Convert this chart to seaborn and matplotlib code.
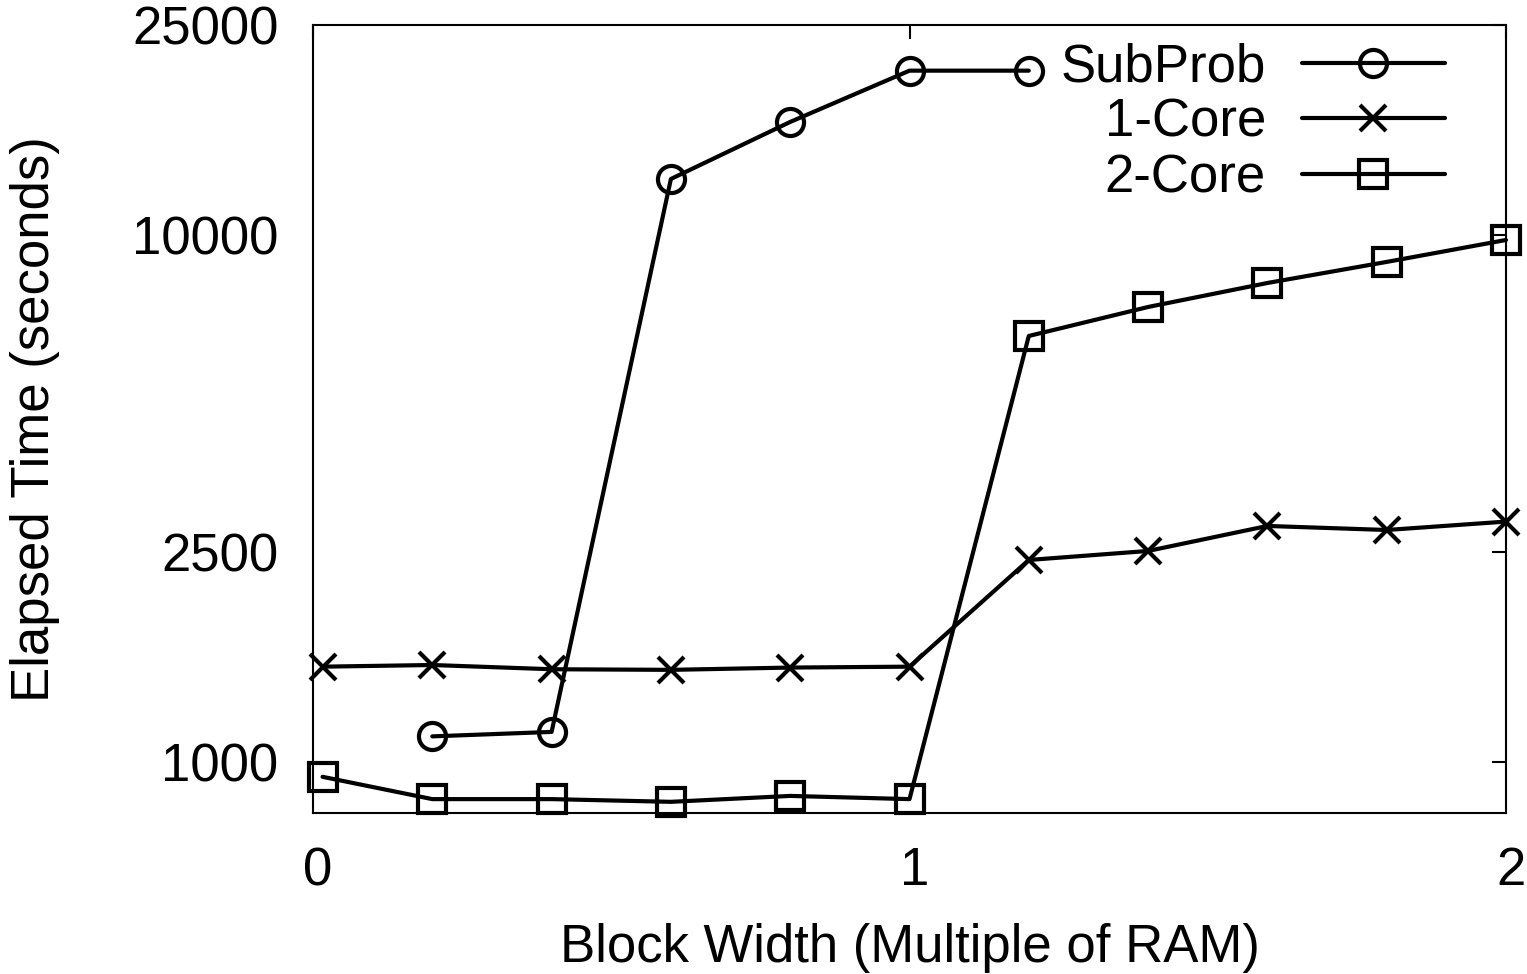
import numpy as np
import pandas as pd
import matplotlib
matplotlib.use("Agg")
import matplotlib.pyplot as plt
import matplotlib.transforms as mtransforms
import seaborn as sns

# ---- data ----
subprob_x = [0.2, 0.4, 0.6, 0.8, 1.0, 1.2]
subprob_y = [1118, 1140, 12760, 16370, 20480, 20480]

core1_x = [0.016, 0.2, 0.4, 0.6, 0.8, 1.0, 1.2, 1.4, 1.6, 1.8, 2.0]
core1_y = [1516, 1527, 1499, 1495, 1510, 1516, 2416, 2513, 2803, 2754, 2857]

core2_x = [0.016, 0.2, 0.4, 0.6, 0.8, 1.0, 1.2, 1.4, 1.6, 1.8, 2.0]
core2_y = [937, 850, 850, 840, 862, 850, 6427, 7295, 8101, 8882, 9775]

series_names = ["SubProb", "1-Core", "2-Core"]
series_markers = ["o", "x", "s"]

x_ticks = [0, 1, 2]
y_ticks = [1000, 2500, 10000, 25000]
x_label = "Block Width (Multiple of RAM)"
y_label = "Elapsed Time (seconds)"

sns.set_style("white")
plt.rcParams["font.family"] = ["Liberation Sans", "DejaVu Sans"]
plt.rcParams["text.color"] = "black"
plt.rcParams["axes.labelcolor"] = "black"
plt.rcParams["xtick.color"] = "black"
plt.rcParams["ytick.color"] = "black"

FS = 38
fig = plt.figure(figsize=(15.27, 9.74), dpi=100)
ax = fig.add_axes([313 / 1527, 1 - 813 / 974, (1506 - 313) / 1527, (813 - 25) / 974])

data = [(subprob_x, subprob_y), (core1_x, core1_y), (core2_x, core2_y)]
msizes = {"o": 19.5, "x": 19, "s": 20}
for (xs, ys), name, mk in zip(data, series_names, series_markers):
    df = pd.DataFrame({"x": xs, "y": ys})
    sns.lineplot(data=df, x="x", y="y", ax=ax, color="black", lw=3.0,
                 marker=mk, markersize=msizes[mk], markerfacecolor="none",
                 markeredgecolor="black", markeredgewidth=3.0, label=name,
                 clip_on=False, zorder=3)

ax.set_yscale("log")
ax.set_xlim(0, 2)
ax.set_ylim(800, 25000)
ax.set_xticks(x_ticks)
ax.set_xticklabels([str(v) for v in x_ticks])
ax.set_yticks(y_ticks)
ax.set_yticklabels([str(v) for v in y_ticks])
ax.yaxis.set_minor_locator(matplotlib.ticker.NullLocator())

ax.tick_params(axis="both", which="major", direction="in", length=10, width=1.5,
               labelsize=FS, top=True, right=True, colors="black")
ax.tick_params(axis="y", pad=25)
ax.tick_params(axis="x", pad=24)
shift = mtransforms.ScaledTranslation(5 / 100, 0, fig.dpi_scale_trans)
for lbl in ax.get_xticklabels():
    lbl.set_transform(lbl.get_transform() + shift)
for s in ax.spines.values():
    s.set_visible(True)
    s.set_linewidth(1.5)
    s.set_color("black")

ax.set_xlabel(x_label, fontsize=FS)
ax.set_ylabel(y_label, fontsize=FS)
ax.xaxis.set_label_coords(0.5, -0.14)
ax.yaxis.set_label_coords(-0.212, 0.5)

leg = ax.legend(loc="upper right", bbox_to_anchor=(1 - 61 / 1193, 1 - 17 / 788),
                frameon=False, markerfirst=False, fontsize=FS, borderpad=0,
                borderaxespad=0, handlelength=2.71, handletextpad=0.68,
                labelspacing=0.11)

fig.savefig("out.png", dpi=100, facecolor="white")
